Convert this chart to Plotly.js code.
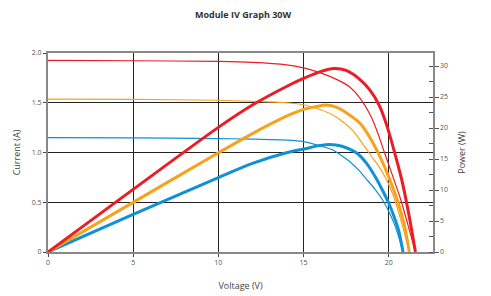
<!DOCTYPE html>
<html>
<head>
<meta charset="utf-8">
<script src="https://cdn.plot.ly/plotly-3.0.1.min.js"></script>
<style>html,body{margin:0;padding:0;background:#fff;}#chart{width:491px;height:296px;}</style>
</head>
<body>
<div id="chart"></div>
<script>
// Current (A) vs Voltage (V) — thin curves
const redIV_V = [0, 5, 10, 12, 14, 15, 16, 17, 17.7, 18.3, 18.97, 19.35, 19.75, 20.2, 20.7, 21.1, 21.57];
const redIV_I = [1.925, 1.922, 1.915, 1.905, 1.88, 1.85, 1.80, 1.73, 1.66, 1.55, 1.36, 1.20, 1.00, 0.78, 0.53, 0.29, 0];
const orangeIV_V = [0, 5, 10, 12, 14, 15, 16, 16.7, 17.3, 17.9, 18.5, 19.0, 19.5, 20.0, 20.4, 20.8, 21.21];
const orangeIV_I = [1.537, 1.533, 1.525, 1.515, 1.50, 1.48, 1.43, 1.38, 1.31, 1.22, 1.08, 0.96, 0.84, 0.68, 0.50, 0.27, 0];
const blueIV_V = [0, 5, 10, 12, 14, 15, 16, 16.7, 17.3, 17.7, 18.2, 18.7, 19.2, 19.65, 20.0, 20.4, 20.84];
const blueIV_I = [1.15, 1.147, 1.14, 1.135, 1.125, 1.11, 1.065, 1.027, 0.96, 0.91, 0.83, 0.73, 0.63, 0.52, 0.41, 0.25, 0];

// Power (W) vs Voltage (V) — thick curves
const redP_V = [0, 5, 10, 12, 14, 15, 16, 16.8, 17.5, 18.2, 18.9, 19.45, 19.9, 20.4, 20.82, 21.2, 21.57];
const redP_W = [0, 10.1, 20.1, 23.7, 26.7, 28.0, 29.1, 29.6, 29.3, 28.1, 26.1, 23.6, 20.3, 15.5, 11.0, 5.8, 0];
const orangeP_V = [0, 5, 10, 12, 14, 15, 16, 16.3, 17, 17.7, 18.3, 18.8, 19.45, 19.9, 20.5, 20.9, 21.21];
const orangeP_W = [0, 8.0, 16.0, 19.1, 21.9, 23.0, 23.6, 23.7, 23.3, 22.1, 20.8, 18.9, 15.6, 12.8, 8.4, 4.6, 0];
const blueP_V = [0, 5, 10, 12, 14, 15, 16, 16.55, 17.2, 18.1, 18.7, 19.26, 19.7, 20.0, 20.3, 20.6, 20.84];
const blueP_W = [0, 6.05, 12.0, 14.3, 16.0, 16.6, 17.2, 17.35, 17.1, 16.0, 14.3, 11.9, 9.6, 7.9, 5.8, 3.3, 0];

const xTicks = [0, 5, 10, 15, 20];
const yTicks = [0, 0.5, 1.0, 1.5, 2.0];
const yTickText = ['0', '0.5', '1.0', '1.5', '2.0'];
const y2Ticks = [0, 5, 10, 15, 20, 25, 30];

const RED = '#ec1c24', ORANGE = '#f8a21c', BLUE = '#1190d6';
const sp = {shape: 'spline', smoothing: 0.8};
function iv(x, y, c) { return {x, y, type: 'scatter', mode: 'lines', line: Object.assign({color: c, width: 1.2}, sp), yaxis: 'y', hoverinfo: 'skip'}; }
function pw(x, y, c) { return {x, y, type: 'scatter', mode: 'lines', line: Object.assign({color: c, width: 3}, sp), yaxis: 'y2', hoverinfo: 'skip'}; }

const data = [
  iv(blueIV_V, blueIV_I, BLUE),
  iv(orangeIV_V, orangeIV_I, ORANGE),
  iv(redIV_V, redIV_I, RED),
  pw(blueP_V, blueP_W, BLUE),
  pw(orangeP_V, orangeP_W, ORANGE),
  pw(redP_V, redP_W, RED)
];

const tf = {family: 'Open Sans, sans-serif', size: 7, color: '#555'};
const layout = {
  width: 491, height: 296,
  margin: {l: 48, r: 58, t: 53, b: 44, pad: 0},
  paper_bgcolor: '#fff', plot_bgcolor: '#fff',
  showlegend: false,
  title: {text: '<b>Module IV Graph 30W</b>', x: 0.495, xanchor: 'center', y: 0.95, yanchor: 'middle',
          font: {family: 'Open Sans, sans-serif', size: 9, color: '#333'}},
  xaxis: {range: [0, 22.6], tickvals: xTicks, ticks: 'outside', ticklen: 3, tickcolor: '#444', tickwidth: 1,
          showgrid: true, gridcolor: '#222', gridwidth: 1, zeroline: false,
          showline: true, linecolor: '#888', linewidth: 2, mirror: true,
          tickfont: tf, fixedrange: true,
          title: {text: 'Voltage (V)', font: {family: 'Open Sans, sans-serif', size: 9, color: '#444'}, standoff: 16}},
  yaxis: {range: [0, 2.0], tickvals: yTicks, ticktext: yTickText, ticks: 'outside', ticklen: 3, tickcolor: '#444',
          showgrid: true, gridcolor: '#222', gridwidth: 1, zeroline: false,
          showline: true, linecolor: '#888', linewidth: 2,
          tickfont: tf, fixedrange: true,
          title: {text: 'Current (A)', font: {family: 'Open Sans, sans-serif', size: 9, color: '#444'}, standoff: 10}},
  yaxis2: {range: [0, 32.1], overlaying: 'y', side: 'right', tickvals: y2Ticks, ticks: 'outside', ticklen: 4,
           tickcolor: '#555', showgrid: false, zeroline: false, showline: true, linecolor: '#888', linewidth: 1.5,
           minor: {dtick: 2.5, tick0: 0, ticks: 'inside', ticklen: 4, tickcolor: '#555', showgrid: false},
           tickfont: tf, fixedrange: true,
           title: {text: 'Power (W)', font: {family: 'Open Sans, sans-serif', size: 9, color: '#444'}, standoff: 12}},
  yaxis3: {range: [0, 32.1], overlaying: 'y', side: 'right', anchor: 'x', tickvals: y2Ticks, ticks: 'inside', ticklen: 4,
           tickcolor: '#555', showticklabels: false, showgrid: false, zeroline: false, showline: false, fixedrange: true}
};

Plotly.newPlot('chart', data, layout, {staticPlot: true, displayModeBar: false});
</script>
</body>
</html>
